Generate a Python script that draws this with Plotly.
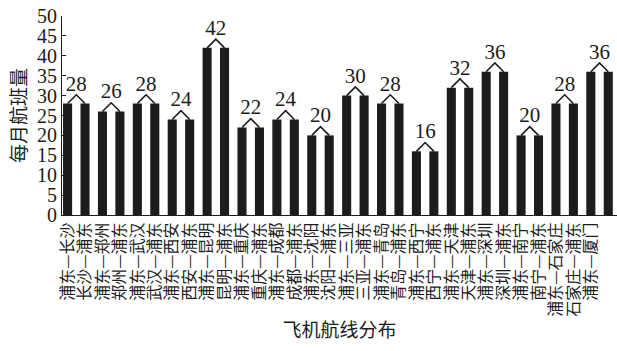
import plotly.graph_objects as go

cities = ["长沙", "郑州", "武汉", "西安", "昆明", "重庆", "成都", "沈阳",
          "三亚", "青岛", "西宁", "天津", "深圳", "南宁", "石家庄", "厦门"]
pair_values = [28, 26, 28, 24, 42, 22, 24, 20, 30, 28, 16, 32, 36, 20, 28, 36]

labels = []
values = []
for c, v in zip(cities, pair_values):
    labels += ["浦东—" + c, c + "—浦东"]
    values += [v, v]

xs = list(range(len(labels)))

fig = go.Figure()
fig.add_trace(go.Bar(x=xs, y=values, width=0.52, marker=dict(color="#1c1c1c", line=dict(width=0)),
                     showlegend=False, hoverinfo="skip"))

# chevrons and numbers
cx, cy = [], []
tx, ty, tt = [], [], []
for k, v in enumerate(pair_values):
    i = 2 * k
    cx += [i, i + 0.5, i + 1, None]
    cy += [v, v + 2.2, v, None]
    tx.append(i + 0.5)
    ty.append(v + 4.6)
    tt.append(str(v))

fig.add_trace(go.Scatter(x=cx, y=cy, mode="lines", line=dict(color="#1c1c1c", width=1.6),
                         showlegend=False, hoverinfo="skip"))
fig.add_trace(go.Scatter(x=tx, y=ty, mode="text", text=tt,
                         textfont=dict(family="Liberation Serif", size=21, color="#1c1c1c"),
                         showlegend=False, hoverinfo="skip"))

fig.update_layout(
    width=617, height=351,
    margin=dict(l=62, r=0, t=16, b=136),
    plot_bgcolor="white", paper_bgcolor="white",
    xaxis=dict(
        range=[-0.32, 31.5],
        tickmode="array", tickvals=xs, ticktext=labels, tickangle=-90,
        tickfont=dict(family="Noto Sans CJK SC", size=16, color="#1c1c1c"),
        showline=True, linecolor="#1c1c1c", linewidth=1.2,
        ticks="", showgrid=False, zeroline=False,
        title=dict(text="飞机航线分布", font=dict(family="Noto Sans CJK SC", size=19, color="#1c1c1c"),
                   standoff=7),
    ),
    yaxis=dict(
        range=[0, 50], tickmode="array", tickvals=list(range(0, 51, 5)),
        tickfont=dict(family="Liberation Serif", size=20, color="#1c1c1c"),
        showline=True, linecolor="#1c1c1c", linewidth=1.2,
        ticks="inside", ticklen=4, tickcolor="#1c1c1c", tickwidth=1.2,
        showgrid=False, zeroline=False,
        title=dict(text="每月航班量", font=dict(family="Noto Sans CJK SC", size=19, color="#1c1c1c"),
                   standoff=5),
    ),
)

fig.write_html("out.html")
